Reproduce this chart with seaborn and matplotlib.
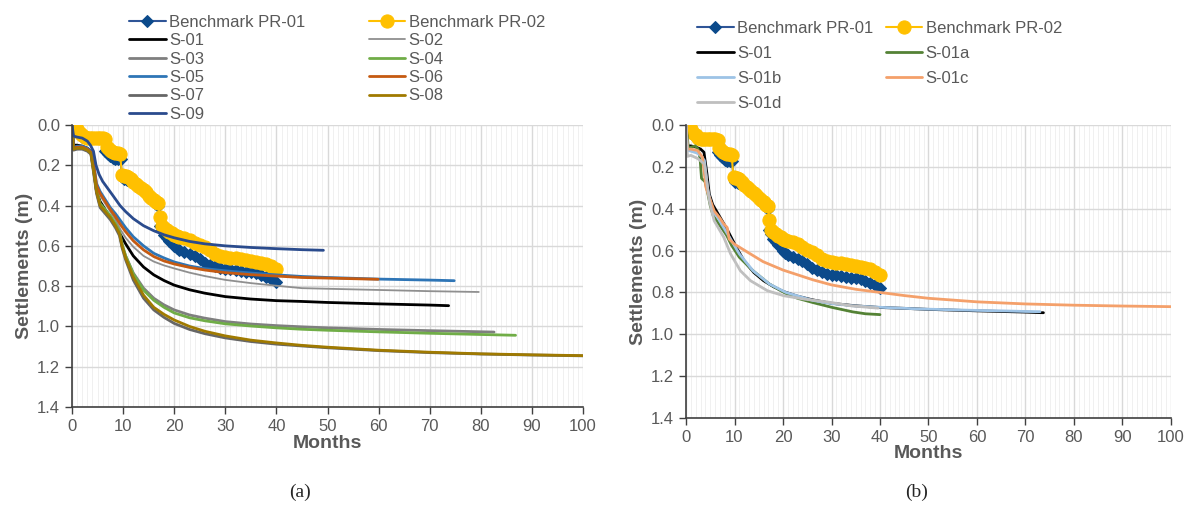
import matplotlib
matplotlib.use("Agg")
import seaborn as sns
from matplotlib import pyplot as plt
from matplotlib.ticker import MultipleLocator

# ---- benchmark readings (months, settlement m) ----
pr01_months = [0, 1, 2, 3, 4, 5, 6, 6.5, 7, 7.5, 8, 8.5, 9, 9.5, 9.8, 10.2, 10.8,
               11.5, 12, 12.5, 13, 13.5, 14, 14.5, 15, 15.5, 16, 16.5, 16.9, 17.2,
               17.6, 18, 18.5, 19, 19.5, 20, 20.5, 21, 22, 23, 24, 25, 26, 27, 28,
               29, 30, 31, 32, 33, 34, 35, 36, 37, 38, 39, 40]
pr01_settle = [0, 0.03, 0.06, 0.065, 0.065, 0.065, 0.07, 0.13, 0.145, 0.155, 0.165,
               0.17, 0.17, 0.17, 0.26, 0.27, 0.275, 0.28, 0.29, 0.30, 0.31, 0.32,
               0.33, 0.34, 0.355, 0.365, 0.38, 0.39, 0.40, 0.50, 0.52, 0.545, 0.56,
               0.575, 0.585, 0.60, 0.61, 0.62, 0.63, 0.64, 0.65, 0.665, 0.685, 0.695,
               0.70, 0.71, 0.715, 0.715, 0.72, 0.725, 0.73, 0.73, 0.735, 0.745, 0.755,
               0.765, 0.78]

pr02_months = [0, 0.5, 1, 1.5, 2, 2.5, 3, 3.5, 4, 4.5, 5, 5.5, 6, 6.5, 6.8, 7.2,
               7.6, 8, 8.5, 9, 9.4, 9.8, 10.2, 10.6, 11, 11.5, 12, 12.5, 13, 13.5,
               14, 14.5, 15, 15.5, 16, 16.5, 16.9, 17.2, 17.6, 18, 18.5, 19, 19.5,
               20, 20.5, 21, 22, 23, 24, 25, 26, 27, 28, 29, 30, 31, 32, 33, 34, 35,
               36, 37, 38, 39, 40]
pr02_settle = [0, 0.01, 0.02, 0.04, 0.05, 0.06, 0.065, 0.065, 0.065, 0.065, 0.065,
               0.065, 0.065, 0.07, 0.11, 0.12, 0.13, 0.135, 0.14, 0.14, 0.145, 0.25,
               0.255, 0.255, 0.26, 0.27, 0.285, 0.295, 0.305, 0.315, 0.325, 0.335,
               0.35, 0.36, 0.37, 0.38, 0.385, 0.455, 0.50, 0.51, 0.52, 0.53, 0.535,
               0.545, 0.55, 0.555, 0.56, 0.57, 0.585, 0.595, 0.605, 0.62, 0.64, 0.65,
               0.655, 0.66, 0.66, 0.665, 0.67, 0.675, 0.68, 0.685, 0.69, 0.70, 0.715]

# ---- simulations, panel (a) ----
s01_months = [0, 0.3, 1, 2, 3, 3.7, 4.3, 4.8, 5.5, 6.5, 7.5, 8.5, 9.5, 10.5, 12, 14,
              16, 18, 20, 23, 26, 30, 35, 40, 45, 50, 60, 70, 73.7]
s01_settle = [0, 0.10, 0.10, 0.105, 0.115, 0.13, 0.23, 0.33, 0.38, 0.42, 0.46, 0.50,
              0.545, 0.59, 0.65, 0.705, 0.744, 0.772, 0.795, 0.818, 0.835, 0.852,
              0.864, 0.872, 0.876, 0.881, 0.888, 0.894, 0.897]

s02_months = [0, 0.3, 1, 2, 3, 3.7, 4.3, 4.8, 5.5, 6.5, 7.5, 8.5, 9.5, 10.5, 12, 14,
              16, 18, 20, 23, 26, 30, 35, 40, 45, 50, 60, 70, 79.6]
s02_settle = [0, 0.11, 0.11, 0.11, 0.12, 0.135, 0.22, 0.31, 0.35, 0.39, 0.43, 0.47,
              0.52, 0.56, 0.605, 0.65, 0.678, 0.697, 0.712, 0.733, 0.75, 0.769,
              0.785, 0.798, 0.81, 0.813, 0.819, 0.825, 0.829]

s03_months = [0, 0.3, 1, 2, 3, 3.7, 4.3, 4.8, 5.5, 6.5, 7.5, 8.5, 9.3, 9.8, 10.5, 12,
              14, 16, 18, 20, 23, 26, 30, 35, 40, 45, 50, 60, 70, 82.6]
s03_settle = [0, 0.12, 0.115, 0.115, 0.125, 0.14, 0.24, 0.33, 0.40, 0.43, 0.46, 0.50,
              0.54, 0.60, 0.65, 0.735, 0.81, 0.86, 0.893, 0.918, 0.943, 0.959,
              0.976, 0.988, 0.996, 1.002, 1.007, 1.015, 1.021, 1.028]

s04_months = [0, 0.3, 1, 2, 3, 3.7, 4.3, 4.8, 5.5, 6.5, 7.5, 8.5, 9.3, 9.8, 10.5, 12,
              14, 16, 18, 20, 23, 26, 30, 35, 40, 45, 50, 60, 70, 80, 86.8]
s04_settle = [0, 0.115, 0.11, 0.11, 0.12, 0.135, 0.23, 0.32, 0.39, 0.42, 0.45, 0.49,
              0.53, 0.59, 0.65, 0.74, 0.82, 0.87, 0.905, 0.933, 0.957, 0.972, 0.987,
              0.998, 1.007, 1.014, 1.019, 1.027, 1.034, 1.04, 1.044]

s05_months = [0, 0.3, 1, 2, 3, 3.7, 4.3, 4.8, 5.5, 6.5, 7.5, 8.5, 9.5, 10.5, 12, 14,
              16, 18, 20, 23, 26, 30, 35, 40, 45, 50, 60, 70, 74.8]
s05_settle = [0, 0.11, 0.105, 0.105, 0.115, 0.13, 0.20, 0.29, 0.33, 0.37, 0.41, 0.44,
              0.475, 0.51, 0.555, 0.60, 0.637, 0.66, 0.68, 0.70, 0.713, 0.724, 0.735,
              0.744, 0.752, 0.757, 0.765, 0.77, 0.773]

s06_months = [0, 0.3, 1, 2, 3, 3.7, 4.3, 4.8, 5.5, 6.5, 7.5, 8.5, 9.5, 10.5, 12, 14,
              16, 18, 20, 23, 26, 30, 35, 40, 45, 50, 55, 59.9]
s06_settle = [0, 0.115, 0.11, 0.11, 0.12, 0.135, 0.21, 0.30, 0.34, 0.38, 0.42, 0.455,
              0.495, 0.53, 0.575, 0.62, 0.653, 0.675, 0.69, 0.707, 0.72, 0.733,
              0.743, 0.75, 0.757, 0.76, 0.763, 0.766]

s07_months = [0, 0.3, 1, 2, 3, 3.7, 4.3, 4.8, 5.5, 6.5, 7.5, 8.5, 9.3, 9.8, 10.5, 12,
              14, 16, 18, 20, 23, 26, 30, 35, 40, 45, 50, 60, 70, 80, 90, 100]
s07_settle = [0, 0.125, 0.12, 0.12, 0.13, 0.145, 0.25, 0.34, 0.41, 0.44, 0.47, 0.51,
              0.55, 0.61, 0.67, 0.77, 0.86, 0.918, 0.955, 0.985, 1.015, 1.036, 1.057,
              1.075, 1.088, 1.097, 1.106, 1.12, 1.13, 1.137, 1.142, 1.146]

s08_months = [0, 0.3, 1, 2, 3, 3.7, 4.3, 4.8, 5.5, 6.5, 7.5, 8.5, 9.3, 9.8, 10.5, 12,
              14, 16, 18, 20, 23, 26, 30, 35, 40, 45, 50, 60, 70, 80, 90, 100]
s08_settle = [0, 0.12, 0.115, 0.115, 0.125, 0.14, 0.24, 0.33, 0.40, 0.43, 0.46, 0.50,
              0.54, 0.60, 0.66, 0.755, 0.845, 0.905, 0.94, 0.968, 1.0, 1.024, 1.047,
              1.068, 1.082, 1.094, 1.103, 1.118, 1.128, 1.136, 1.141, 1.145]

s09_months = [0, 0.3, 1, 2, 3, 3.6, 4.2, 4.7, 5.3, 6, 7, 8, 9.4, 10.5, 12, 14, 16,
              18, 20, 23, 26, 30, 35, 40, 45, 49.2]
s09_settle = [0, 0.055, 0.06, 0.065, 0.08, 0.10, 0.13, 0.20, 0.245, 0.28, 0.315,
              0.35, 0.40, 0.43, 0.465, 0.50, 0.525, 0.545, 0.56, 0.578, 0.59, 0.60,
              0.608, 0.614, 0.619, 0.622]

# ---- simulations, panel (b) ----
s01a_months = [0, 0.5, 1.2, 1.9, 2.5, 2.9, 3.2, 3.9, 4.3, 5.0, 5.6, 7, 8.4, 9.4, 11,
               13.8, 17.2, 20.6, 23, 26.1, 30.2, 34.4, 37, 40]
s01a_settle = [0, 0.11, 0.105, 0.10, 0.115, 0.16, 0.255, 0.27, 0.305, 0.385, 0.433,
               0.48, 0.528, 0.575, 0.632, 0.696, 0.76, 0.805, 0.828, 0.848, 0.872,
               0.893, 0.902, 0.906]

s01b_months = [0, 0.3, 1, 2.4, 3.2, 3.8, 4.5, 5.5, 6.5, 7.5, 9, 11, 13.8, 17.2, 20.6,
               26.1, 30, 34.4, 40, 48.2, 55, 60, 65, 70, 73]
s01b_settle = [0, 0.12, 0.125, 0.135, 0.15, 0.17, 0.31, 0.41, 0.44, 0.48, 0.537,
               0.616, 0.696, 0.76, 0.80, 0.838, 0.853, 0.864, 0.871, 0.879, 0.883,
               0.886, 0.888, 0.891, 0.892]

s01c_months = [0, 0.3, 1, 2.4, 3.4, 4.1, 4.8, 5.8, 7, 7.8, 8.5, 8.9, 9.9, 12.5, 15.9,
               20, 26.2, 30, 35, 40, 45, 50, 60, 70, 80, 90, 100]
s01c_settle = [0, 0.115, 0.115, 0.122, 0.154, 0.297, 0.345, 0.41, 0.445, 0.473, 0.49,
               0.545, 0.568, 0.605, 0.653, 0.693, 0.74, 0.764, 0.785, 0.80, 0.815,
               0.828, 0.845, 0.855, 0.861, 0.865, 0.868]

s01d_months = [0, 0.3, 1, 2.4, 3.8, 4.8, 5.8, 7.8, 9.2, 11.2, 13.3, 16.8, 20.2, 24.4,
               29.9, 34, 39.6]
s01d_settle = [0, 0.15, 0.145, 0.16, 0.186, 0.36, 0.457, 0.537, 0.616, 0.696, 0.744,
               0.792, 0.816, 0.832, 0.848, 0.864, 0.875]

sns.set_style("white")
plt.rcParams["font.family"] = ["Liberation Sans", "DejaVu Sans"]

GREY_TXT = "#595959"

fig = plt.figure(figsize=(11.86, 5.07), dpi=100)
W, H = 1186, 507
ax_a = fig.add_axes([72 / W, 1 - 407 / H, 511 / W, 282 / H])
ax_b = fig.add_axes([686 / W, 1 - 418 / H, 485 / W, 293 / H])


def draw_benchmarks(ax):
    sns.lineplot(x=pr01_months, y=pr01_settle, ax=ax, color="#2F5597", lw=1.5,
                 marker="D", markersize=6.5, markerfacecolor="#0B4A8B",
                 markeredgecolor="#0B4A8B", label="Benchmark PR-01",
                 estimator=None, sort=False)
    sns.lineplot(x=pr02_months, y=pr02_settle, ax=ax, color="#FFC000", lw=1.5,
                 marker="o", markersize=9.5, markerfacecolor="#FFC000",
                 markeredgecolor="#FFC000", label="Benchmark PR-02",
                 estimator=None, sort=False)


def style_axes(ax, xpad):
    ax.set_xlim(0, 100)
    ax.set_ylim(1.4, 0)
    ax.xaxis.set_major_locator(MultipleLocator(10))
    ax.xaxis.set_minor_locator(MultipleLocator(1))
    ax.yaxis.set_major_locator(MultipleLocator(0.2))
    ax.yaxis.set_major_formatter(plt.FormatStrFormatter("%.1f"))
    ax.grid(which="major", color="#D9D9D9", lw=1.0)
    ax.grid(which="minor", axis="x", color="#EEEEEE", lw=0.6)
    ax.set_axisbelow(True)
    for side in ["top", "right"]:
        ax.spines[side].set_visible(False)
    for side in ["left", "bottom"]:
        ax.spines[side].set_color("#404040")
        ax.spines[side].set_linewidth(1.2)
    ax.tick_params(which="major", direction="out", length=5, width=1,
                   color="#404040", labelsize=12, labelcolor=GREY_TXT,
                   bottom=True, left=True)
    ax.tick_params(which="minor", length=0)
    ax.set_xlabel("Months", fontsize=14, fontweight="bold", color=GREY_TXT,
                  labelpad=xpad)
    ax.set_ylabel("Settlements (m)", fontsize=14, fontweight="bold",
                  color=GREY_TXT, labelpad=3)


def row_legend(ax, anchor, colsp, rowsp):
    # order handles so the two columns read row by row
    handles, labels = ax.get_legend_handles_labels()
    order = list(range(0, len(labels), 2)) + list(range(1, len(labels), 2))
    ax.legend([handles[i] for i in order], [labels[i] for i in order],
              loc="upper left", bbox_to_anchor=anchor,
              bbox_transform=fig.transFigure, ncol=2, frameon=False,
              fontsize=12, labelcolor=GREY_TXT, handlelength=2.2,
              handletextpad=0.2, columnspacing=colsp, labelspacing=rowsp,
              borderpad=0, borderaxespad=0)


# panel (a)
draw_benchmarks(ax_a)
for m, s, c, w, lab in [
    (s01_months, s01_settle, "#000000", 2.0, "S-01"),
    (s02_months, s02_settle, "#8F8F8F", 1.3, "S-02"),
    (s03_months, s03_settle, "#7F7F7F", 2.0, "S-03"),
    (s04_months, s04_settle, "#70AD47", 2.0, "S-04"),
    (s05_months, s05_settle, "#2E75B6", 2.0, "S-05"),
    (s06_months, s06_settle, "#C55A11", 2.0, "S-06"),
    (s07_months, s07_settle, "#666666", 2.0, "S-07"),
    (s08_months, s08_settle, "#A07A00", 2.0, "S-08"),
    (s09_months, s09_settle, "#2A4B8D", 2.0, "S-09"),
]:
    sns.lineplot(x=m, y=s, ax=ax_a, color=c, lw=w, label=lab,
                 estimator=None, sort=False)
style_axes(ax_a, 1)
row_legend(ax_a, (129 / W, 1 - 15 / H), 3.8, 0.2)

# panel (b)
draw_benchmarks(ax_b)
for m, s, c, w, lab in [
    (s01_months, s01_settle, "#000000", 2.0, "S-01"),
    (s01a_months, s01a_settle, "#548235", 2.0, "S-01a"),
    (s01b_months, s01b_settle, "#9DC3E6", 2.0, "S-01b"),
    (s01c_months, s01c_settle, "#F4A06A", 2.0, "S-01c"),
    (s01d_months, s01d_settle, "#BFBFBF", 2.0, "S-01d"),
]:
    sns.lineplot(x=m, y=s, ax=ax_b, color=c, lw=w, label=lab,
                 estimator=None, sort=False)
style_axes(ax_b, 0.5)
row_legend(ax_b, (697 / W, 1 - 21 / H), 0.75, 0.6)

# captions
fig.text(300 / W, 1 - 492 / H, "(a)", ha="center", va="center", fontsize=14,
         family=["Liberation Serif", "DejaVu Serif"])
fig.text(917 / W, 1 - 492 / H, "(b)", ha="center", va="center", fontsize=14,
         family=["Liberation Serif", "DejaVu Serif"])

fig.savefig("out.png", dpi=100)
